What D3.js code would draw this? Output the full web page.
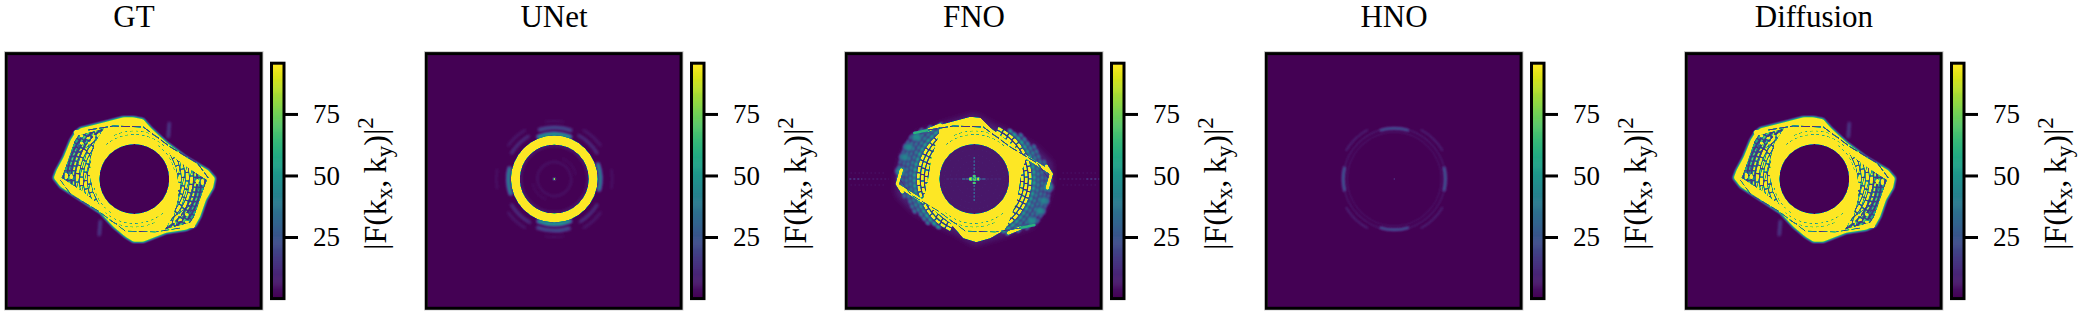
<!DOCTYPE html>
<html><head><meta charset="utf-8">
<script src="https://cdn.jsdelivr.net/npm/d3@7"></script>
<style>html,body{margin:0;padding:0;background:#fff;overflow:hidden}svg{display:block}text{font-family:"Liberation Serif",serif;fill:#000}</style>
</head><body><div id="chart"></div>
<script>
const titles = ["GT","UNet","FNO","HNO","Diffusion"];
const colorTicks = [25,50,75];
const colorDomain = [0.2,95.3];
const saturated = 127;

const gtOutline = [[-1,62],[9,60],[17,51],[32,37],[52,22],[74,9],[81,1],[79,-9],[72,-21],[66,-38],[61,-47],[52,-51],[32,-54],[9,-63],[-1,-63],[-9,-58],[-21,-48],[-34,-34],[-54,-21],[-74,-8],[-81,1],[-78,9],[-71,22],[-64,39],[-59,47],[-54,51],[-34,56],[-11,62]];
const gtLobe = [[-73,1],[-66,20],[-60,38],[-56,44],[-44,47],[-30,51],[-38,38],[-43,22],[-44,4],[-41,-12],[-34,-27],[-50,-14],[-62,-6]];
const gtFringeRadii = [45,49,53,57,61,65,69,73,77];
const gtFringeValues = [127,127,127,120,92,72,58,48,42];
const gtCrossChords = [[[-68,-2],[-53,42]],[[-63,-6],[-47,44]],[[-58,-10],[-42,46]],[[-53,-14],[-37,48]],[[-47,-18],[-33,49]],[[-60,30],[-30,50]],[[-62,22],[-36,40]]];
const gtBlobs = [[-57,46.7,3.6,2.4],[-52.6,43,1.8,1.4],[-46,40.7,1.8,1.3],[-52.6,35.7,1.8,1.4],[-45,36,1.7,1.2],[-40,43,1.4,1],[-68,3,1.6,3],[-63,2.5,1.5,2.6]];
const gtEdgeLine = [[-46,49],[-21,53],[9,52],[36,32],[63,16],[74,1]];
const gtRingArcs = [[44.5,320,405],[44.5,140,225],[48,335,395],[48,155,215],[41,35,80],[41,215,260]];
const gtSpikes = [[[34,42],[35,56]],[[-34,-42],[-35,-56]]];

const unetRings = [[39,34.6,43.2,127]];
const unetArcs = [[45,-22,22,70,2.6],[45,158,202,70,2.6],[46,70,105,58,2.6],[46,250,285,58,2.6],[51.5,-18,20,26,3],[51.5,162,200,26,3],[33.5,0,360,9,1.8],[17,0,360,6,2],[22,20,80,4,2],[22,200,260,4,2],[50,28,60,15,2.6],[50,208,240,15,2.6],[50,120,150,15,2.6],[50,300,330,15,2.6],[57,30,55,7,2.6],[57,125,150,7,2.6],[57,210,235,7,2.6],[57,305,330,7,2.6],[58,-10,10,5,2],[58,170,190,5,2],[58,80,100,6,2],[58,260,280,6,2]];

const hnoArcs = [[50.6,-17,17,25,2.6],[50.6,163,197,25,2.6],[51,76,104,25,3],[51,256,284,25,3],[47,0,360,6,1.4],[51,17,76,8,1.4],[51,104,163,8,1.4],[51,197,256,8,1.4],[51,284,343,8,1.4],[56,28,60,9,2],[56,120,152,9,2],[56,208,240,9,2],[56,300,332,9,2]];

const fnoFuzz = [[-58,46],[-30,56],[0,65],[18,55],[40,45],[62,32],[78,16],[78,-4],[72,-26],[58,-48],[30,-57],[0,-66],[-18,-55],[-40,-45],[-62,-32],[-78,-16],[-78,4],[-72,26]];
const fnoBody = [[-34,54],[-4,62],[6,61],[16,51],[32,39],[52,22],[48,10],[46,0],[43,-20],[34,-44],[30,-51],[16,-59],[2,-63],[-11,-59],[-24,-44],[-52,-22],[-48,-10],[-46,0],[-43,20],[-36,42]];
const fnoBand = [[52,22],[74,8]];
const fnoCapBar = [[72,13],[77,5],[73,-9]];
const fnoLobeStrips = [[[-46,49],[-34,54]],[[-60,46],[-46,49]]];
const fnoFringeRadii = [48,52,56,60,64,68,72,76];
const fnoFringeValues = [127,127,120,78,56,50,44,38];
const fnoFringeFrom = [205,205,205,215,225,240,255,265];
const fnoFringeTo = [335,335,335,332,330,322,315,305];
const fnoHoleValue = 6;
const fnoHoleRadii = [12,18,24,30];
const fnoCentre = [[-12,12,0,62,1.2],[-5,5,0,127,3],[-28,28,0,12,1]];
const fnoVertical = [[0,-22,22,32,1.4],[0,-5,5,70,3]];
const fnoTail = [[-125,-112,0,24,1],[112,125,0,24,1],[-110,-85,0,9,1],[85,110,0,9,1],[-124,-88,6,5,1],[88,124,6,5,1],[-124,-88,-6,5,1],[88,124,-6,5,1]];
const fnoLobeBlobs = [[-70,22],[-66,32],[-58,42],[-74,8]];
const fnoRingArcs = [[44.5,320,405],[44.5,140,225],[48,335,395],[48,155,215]];

const panelStep = 420, imgLeft = 8, imgTop = 55, imgSize = 252;
const kx = d3.scaleLinear().domain([-126.3,125.7]).range([0,imgSize]);
const ky = d3.scaleLinear().domain([124,-128]).range([0,imgSize]);
const valueY = d3.scaleLinear().domain(colorDomain).range([298,64]);
const colour = d3.scaleSequential(d3.interpolateViridis).domain(colorDomain).clamp(true);
const gray = v => { const g = Math.round(v/saturated*255); return `rgb(${g},${g},${g})`; };
const rad = d => d*Math.PI/180;

function painter(ctx){
  const lin = d3.line().x(d=>kx(d[0])).y(d=>ky(d[1])).context(ctx);
  const linClosed = d3.line().x(d=>kx(d[0])).y(d=>ky(d[1])).curve(d3.curveLinearClosed).context(ctx);
  const cx = kx(0), cy = ky(0);
  return {
    ctx,
    poly(pts,v,blur){ ctx.save(); if(blur) ctx.filter=`blur(${blur}px)`; ctx.beginPath(); linClosed(pts); ctx.fillStyle=gray(v); ctx.fill(); ctx.restore(); },
    line(pts,v,w,dash){ ctx.save(); ctx.beginPath(); lin(pts); ctx.strokeStyle=gray(v); ctx.lineWidth=w; ctx.lineJoin="round"; ctx.lineCap="round"; if(dash){ctx.setLineDash(dash);ctx.lineCap="butt";} ctx.stroke(); ctx.restore(); },
    band(r,a0,a1,v,w,dash){ ctx.save(); ctx.translate(cx,cy); ctx.beginPath();
      ctx.arc(0,0,r,rad(a0-90),rad(a1-90)); ctx.strokeStyle=gray(v); ctx.lineWidth=w; if(dash) ctx.setLineDash(dash); ctx.stroke(); ctx.restore(); },
    ring(rIn,rOut,v){ ctx.save(); ctx.translate(cx,cy); ctx.beginPath(); ctx.arc(0,0,rOut,0,2*Math.PI); if(rIn>0) ctx.arc(0,0,rIn,0,2*Math.PI,true); ctx.fillStyle=gray(v); ctx.fill(); ctx.restore(); },
    disc(x,y,rx,ry,v){ ctx.beginPath(); ctx.ellipse(kx(x),ky(y),rx,ry,0,0,2*Math.PI); ctx.fillStyle=gray(v); ctx.fill(); },
    clip(pts,draw){ ctx.save(); ctx.beginPath(); linClosed(pts); ctx.clip(); draw(); ctx.restore(); },
    mirrored(draw){ draw(); ctx.save(); ctx.translate(2*cx,2*cy); ctx.rotate(Math.PI); draw(); ctx.restore(); }
  };
}

function drawGT(p){
  p.ctx.filter="blur(1.6px)";
  gtSpikes.forEach(s=>p.line(s,26,2));
  p.ctx.filter="none";
  p.poly(gtOutline,saturated,1.3);
  p.mirrored(()=>{
    p.clip(gtLobe,()=>{
      p.poly(gtLobe,16);
      gtFringeRadii.forEach((r,i)=>{
        p.band(r,200,340,gtFringeValues[i],i<4?3:2,i<4?[7,1.4]:[3.5,1.4]);
      });
      gtCrossChords.forEach(c=>p.line(c,14,0.8));
    });
    gtBlobs.forEach(b=>p.disc(b[0],b[1],b[2],b[3],saturated));
  });
  p.line(gtEdgeLine,12,1,[9,2]);
  p.mirrored(()=>p.line(gtEdgeLine,12,1,[9,2]));
  gtRingArcs.forEach(a=>p.band(a[0],a[1],a[2],30,0.9,[3,2.5]));
  p.ring(0,35,0);
}
function drawUNet(p){
  p.ctx.filter="blur(1.5px)";
  unetArcs.forEach(a=>p.band(a[0],a[1],a[2],a[3],a[4]));
  p.ctx.filter="none";
  unetRings.forEach(r=>p.ring(r[1],r[2],r[3]));
  p.disc(0,0,2.2,2.2,8); p.disc(0,0,0.8,0.8,127);
}
function drawHNO(p){
  p.ctx.filter="blur(1.3px)";
  hnoArcs.forEach(a=>p.band(a[0],a[1],a[2],a[3],a[4]));
  p.ctx.filter="none";
  p.disc(0,0,0.7,0.7,18);
}
function drawFNO(p){
  fnoTail.forEach(t=>p.line([[t[0],t[2]],[t[1],t[2]]],t[3],t[4],[2,2]));
  p.poly(fnoFuzz,10,3.5);
  p.mirrored(()=>{
    p.ctx.save(); p.ctx.filter="blur(1.6px)";
    fnoLobeBlobs.forEach((d,i)=>p.disc(d[0],d[1],4.5,3.5,44+i*3));
    p.ctx.restore();
    fnoFringeRadii.forEach((r,i)=>{
      if(i>=3) p.ctx.filter="blur(0.8px)";
      p.band(r,fnoFringeFrom[i],fnoFringeTo[i],fnoFringeValues[i],i<3?2.6:2.3,i<3?[5,1.4]:[4,1.4]);
      p.ctx.filter="none";
    });
  });
  p.poly(fnoBody,saturated);
  p.mirrored(()=>{
    p.line(fnoLobeStrips[0],saturated,3);
    p.line(fnoLobeStrips[1],62,2.6);
    p.line(fnoBand,saturated,3.2);
    p.line(fnoCapBar,saturated,3);
  });
  fnoRingArcs.forEach(a=>p.band(a[0],a[1],a[2],30,0.9,[3,2.5]));
  p.line(gtEdgeLine,12,1,[9,2]);
  p.mirrored(()=>p.line(gtEdgeLine,12,1,[9,2]));
  p.ring(0,35,fnoHoleValue);
  fnoHoleRadii.forEach(r=>p.band(r,0,360,10,0.8,[1,3]));
  fnoCentre.forEach(c=>p.line([[c[0],c[2]],[c[1],c[2]]],c[3],c[4],[3,1]));
  fnoVertical.forEach(c=>p.line([[c[0],c[1]],[c[0],c[2]]],c[3],c[4],[2,1.5]));
}
const painters = {GT:drawGT,UNet:drawUNet,FNO:drawFNO,HNO:drawHNO,Diffusion:drawGT};

function render(name){
  const sharp = document.createElement("canvas"); sharp.width=sharp.height=imgSize;
  const c = sharp.getContext("2d",{willReadFrequently:true});
  c.fillStyle="#000"; c.fillRect(0,0,imgSize,imgSize);
  painters[name](painter(c));
  const soft = document.createElement("canvas"); soft.width=soft.height=imgSize;
  const s = soft.getContext("2d",{willReadFrequently:true});
  s.fillStyle="#000"; s.fillRect(0,0,imgSize,imgSize);
  s.filter = "blur(0.7px)";
  s.drawImage(sharp,0,0); s.filter="none";
  const im = s.getImageData(0,0,imgSize,imgSize), d = im.data;
  for(let i=0;i<d.length;i+=4){
    const c2 = d3.rgb(colour(d[i]/255*saturated));
    d[i]=c2.r; d[i+1]=c2.g; d[i+2]=c2.b; d[i+3]=255;
  }
  s.putImageData(im,0,0);
  return soft.toDataURL();
}

const svg = d3.select("#chart").append("svg").attr("width",2086).attr("height",314);
const gs = svg.selectAll("g.panel").data(titles).join("g").attr("class","panel")
  .attr("transform",(d,i)=>`translate(${i*panelStep},0)`);

gs.append("text").attr("x",134).attr("y",27).attr("text-anchor","middle").attr("font-size",31).text(d=>d);
gs.append("image").attr("x",imgLeft).attr("y",imgTop).attr("width",imgSize).attr("height",imgSize)
  .attr("href",d=>render(d));
gs.append("rect").attr("x",4.5).attr("y",51.5).attr("width",258.5).attr("height",258.5)
  .attr("fill","none").attr("stroke","#cfcfcf").attr("stroke-width",1);
gs.append("rect").attr("x",6.4).attr("y",53.6).attr("width",254.7).attr("height",254.7)
  .attr("fill","none").attr("stroke","#000").attr("stroke-width",3);

const levels = d3.range(colorDomain[0],colorDomain[1],(colorDomain[1]-colorDomain[0])/240);
gs.each(function(){
  const g = d3.select(this);
  g.append("g").selectAll("rect").data(levels).join("rect")
    .attr("x",271.5).attr("width",12.5)
    .attr("y",d=>valueY(d)-1.2).attr("height",1.6)
    .attr("fill",d=>colour(d));
  g.append("rect").attr("x",271.5).attr("y",63.2).attr("width",12.5).attr("height",235.4)
    .attr("fill","none").attr("stroke","#000").attr("stroke-width",3);
  const ax = g.append("g").attr("transform","translate(285,0)")
    .call(d3.axisRight(valueY).tickValues(colorTicks).tickSize(13).tickPadding(15).tickFormat(d3.format("d")));
  ax.select(".domain").remove();
  ax.selectAll(".tick line").attr("stroke","#000").attr("stroke-width",3);
  ax.selectAll(".tick text").attr("font-size",27).attr("font-family","Liberation Serif").attr("fill","#000");
  const t = g.append("text").attr("transform","translate(386,250) rotate(-90)").attr("font-size",32);
  t.append("tspan").text("|F(k");
  t.append("tspan").attr("font-size",23).attr("dy",6).text("x");
  t.append("tspan").attr("dy",-6).text(",\u2009k");
  t.append("tspan").attr("font-size",23).attr("dy",6).text("y");
  t.append("tspan").attr("dy",-6).text(")|");
  t.append("tspan").attr("font-size",23).attr("dy",-13).text("2");
});
</script></body></html>
